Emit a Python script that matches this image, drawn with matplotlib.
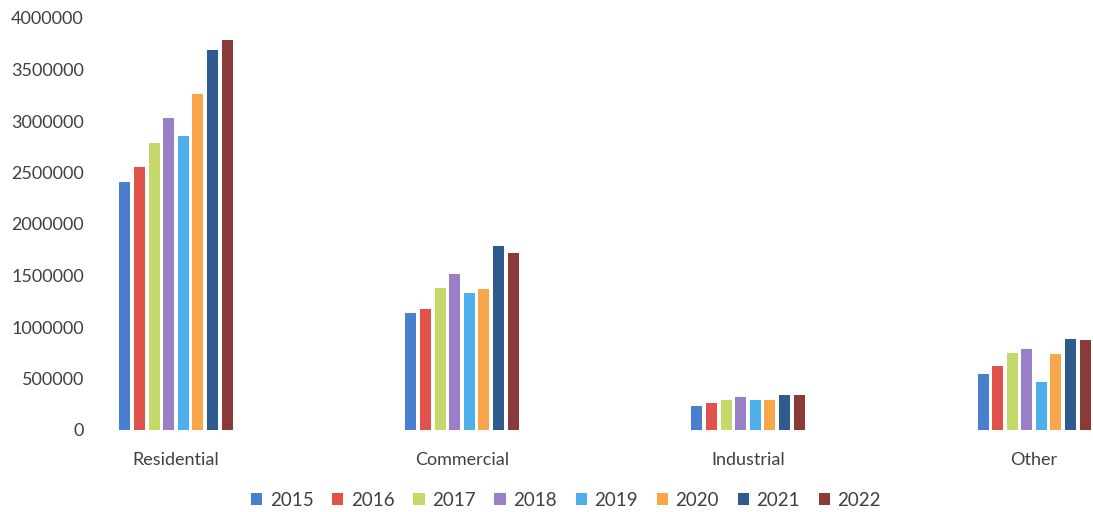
import matplotlib.pyplot as plt
import numpy as np

categories = ["Residential", "Commercial", "Industrial", "Other"]
years = ["2015", "2016", "2017", "2018", "2019", "2020", "2021", "2022"]

v2015 = [2410000, 1140000, 235000, 545000]
v2016 = [2550000, 1170000, 265000, 620000]
v2017 = [2790000, 1380000, 295000, 750000]
v2018 = [3030000, 1510000, 325000, 790000]
v2019 = [2850000, 1330000, 290000, 470000]
v2020 = [3260000, 1370000, 290000, 740000]
v2021 = [3685000, 1790000, 335000, 880000]
v2022 = [3785000, 1720000, 335000, 870000]
series = [v2015, v2016, v2017, v2018, v2019, v2020, v2021, v2022]

colors = ['#4a7fd0', '#e0534a', '#c5d86a', '#9a7fc8',
          '#4db0ea', '#f9a54a', '#2e5a8e', '#8b3a3a']

plt.rcParams['font.family'] = ['Lato', 'DejaVu Sans']

fig = plt.figure(figsize=(10.93, 5.12), dpi=100)
ax = fig.add_axes([95 / 1093, (512 - 430) / 512, (1093 - 95) / 1093, 412 / 512])

x = np.arange(len(categories))
slot = 0.051
width = 0.0385
for i, (vals, c, yr) in enumerate(zip(series, colors, years)):
    offset = (i - 3.5) * slot
    ax.bar(x + offset, vals, width, color=c, label=yr)

ax.set_xlim(-0.283, 3.206)
ax.set_ylim(0, 4000000)
ax.set_yticks(np.arange(0, 4000001, 500000))
ax.set_yticklabels([str(v) for v in range(0, 4000001, 500000)])
ax.set_xticks(x)
ax.set_xticklabels(categories)

for s in ax.spines.values():
    s.set_visible(False)
ax.tick_params(axis='both', length=0, labelsize=13, colors='#404040')
ax.tick_params(axis='y', pad=8)
ax.tick_params(axis='x', pad=16)

fig.legend(loc='center', bbox_to_anchor=(566 / 1093, 1 - 500 / 512), ncol=8,
           frameon=False, fontsize=13.5, handlelength=0.6, handleheight=0.6,
           handletextpad=0.4, columnspacing=1.0, labelcolor='#404040')

fig.savefig('out.png', dpi=100)
